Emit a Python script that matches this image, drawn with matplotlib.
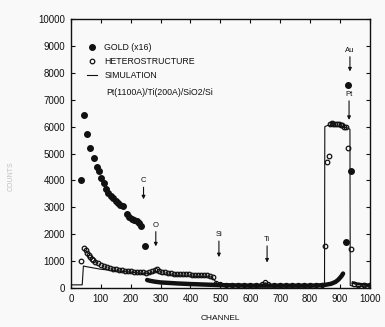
import matplotlib
matplotlib.use("Agg")
import matplotlib.pyplot as plt

# ---- data ----
gold_ch = [33, 44, 54, 64, 76, 86, 93, 100, 110, 117, 124, 133, 142, 150, 158, 166,
           175, 187, 195, 203, 212, 220, 228, 236, 248]
gold_val = [4000, 6430, 5720, 5200, 4830, 4500, 4350, 4090, 3900, 3700, 3530, 3440,
            3350, 3250, 3160, 3100, 3050, 2750, 2650, 2560, 2520, 2490, 2400, 2300, 1560]

gold_tail_ch = [255, 265, 280, 300, 330, 360, 400, 450, 500, 550, 600, 650, 700, 750,
                800, 830, 850, 870, 885, 895, 905, 910]
gold_tail_val = [300, 270, 240, 210, 190, 170, 150, 130, 110, 100, 90, 90, 90, 90,
                 90, 100, 120, 160, 230, 320, 450, 540]

gold_peak_ch = [920, 927, 937]
gold_peak_val = [1700, 7550, 4350]

gold_end_ch = [943, 950, 960, 1000]
gold_end_val = [200, 180, 150, 120]

het_ch = [33, 45, 50, 55, 60, 65, 70, 75, 80, 90, 100, 110, 120, 130, 140, 150, 160,
          170, 180, 190, 200, 210, 220, 230, 240, 250, 260, 270, 280, 287, 295, 305,
          315, 325, 335, 345, 355, 365, 375, 385, 395, 405, 415, 425, 435, 445, 455,
          465, 475]
het_val = [1000, 1480, 1400, 1300, 1220, 1150, 1080, 1030, 980, 920, 870, 820, 780,
           750, 720, 700, 680, 660, 640, 630, 620, 610, 600, 590, 580, 570, 590, 630,
           670, 700, 650, 600, 580, 560, 550, 540, 530, 520, 515, 510, 505, 500, 495,
           490, 485, 480, 470, 460, 420]

het_low_ch = [485, 500, 520, 540, 560, 580, 600, 620, 640, 650, 660, 680, 700, 720,
              740, 760, 780, 800, 820, 840]
het_low_val = [200, 150, 130, 120, 120, 110, 110, 110, 150, 220, 150, 110, 100, 100,
               100, 100, 100, 100, 110, 130]

het_high_ch = [850, 856, 862, 866, 872, 878, 884, 890, 896, 902, 908, 914, 920, 927,
               937, 945, 960, 980, 1000]
het_high_val = [1560, 4700, 4900, 6100, 6150, 6100, 6100, 6080, 6100, 6050, 6050,
                6000, 6000, 5200, 1450, 150, 120, 110, 100]

sim_ch = [0, 38, 42, 50, 60, 80, 100, 150, 200, 250, 270, 285, 300, 350, 400, 450,
          470, 480, 490, 500, 600, 640, 650, 660, 700, 800, 848, 849, 860, 900, 925,
          933, 934, 945, 1000]
sim_val = [120, 120, 820, 800, 780, 740, 700, 640, 590, 530, 550, 620, 520, 470, 440,
           420, 410, 300, 150, 100, 90, 90, 200, 90, 80, 80, 100, 6000, 6050, 6000,
           5950, 5900, 100, 60, 50]

annot_labels = ["C", "O", "Si", "Ti", "Au", "Pt"]
annot_ch = [243, 284, 495, 656, 933, 930]
annot_text_y = [3850, 2200, 1850, 1670, 8700, 7060]
annot_tip_y = [3300, 1550, 1150, 950, 8050, 6250]

# ---- figure ----
plt.rcParams['font.family'] = ['Liberation Sans', 'DejaVu Sans']
fig = plt.figure(figsize=(3.85, 3.27), dpi=100, facecolor='#f9f9f9')
ax = fig.add_axes([0.184, 0.119, 0.777, 0.823])
ax.set_facecolor('#f9f9f9')

k = '#111111'
h_sim, = ax.plot(sim_ch, sim_val, color=k, lw=0.8, label='SIMULATION')
h_het, = ax.plot(het_ch, het_val, 'o', mfc='none', mec=k, ms=3.3, mew=0.9,
                 label='HETEROSTRUCTURE')
ax.plot(het_low_ch, het_low_val, 'o', mfc='none', mec=k, ms=3.0, mew=0.9)
ax.plot(het_high_ch, het_high_val, 'o', mfc='none', mec=k, ms=3.3, mew=0.9)
h_gold, = ax.plot(gold_ch, gold_val, 'o', color=k, ms=4.0, label='GOLD (x16)')
ax.plot(gold_tail_ch, gold_tail_val, '-', color=k, lw=3.2, solid_capstyle='round')
ax.plot(gold_peak_ch, gold_peak_val, 'o', color=k, ms=4.0)
ax.plot(gold_end_ch, gold_end_val, '-', color=k, lw=2.0)

for lab, x, ty, tipy in zip(annot_labels, annot_ch, annot_text_y, annot_tip_y):
    ax.annotate(lab, xy=(x, tipy), xytext=(x, ty), ha='center', va='bottom',
                fontsize=5.5, color=k,
                arrowprops=dict(arrowstyle='-|>', color=k, lw=0.8,
                                mutation_scale=5, shrinkA=0, shrinkB=0))

ax.set_xlim(0, 1000)
ax.set_ylim(0, 10000)
ax.set_xticks(range(0, 1001, 100))
ax.set_yticks(range(0, 10001, 1000))
ax.tick_params(direction='in', top=True, right=True, length=3, width=0.8,
               labelsize=7, colors=k, pad=4)
for s in ax.spines.values():
    s.set_linewidth(1.0)
    s.set_color(k)

ax.set_xlabel('CHANNEL', fontsize=6, color=k, labelpad=8)
fig.text(0.03, 0.46, 'COUNTS', rotation=90, fontsize=5, color='#c0c0c0',
         ha='center', va='center')

leg = ax.legend(handles=[h_gold, h_het, h_sim], loc='upper left',
                bbox_to_anchor=(0.03, 0.935), frameon=False,
                fontsize=6.3, handlelength=1.2, handletextpad=0.8,
                labelspacing=0.55, borderaxespad=0.4)
for t in leg.get_texts():
    t.set_color(k)
ax.text(0.118, 0.725, 'Pt(1100A)/Ti(200A)/SiO2/Si', transform=ax.transAxes,
        fontsize=6.3, color=k, va='center')

fig.savefig('out.png', dpi=100, facecolor=fig.get_facecolor())
